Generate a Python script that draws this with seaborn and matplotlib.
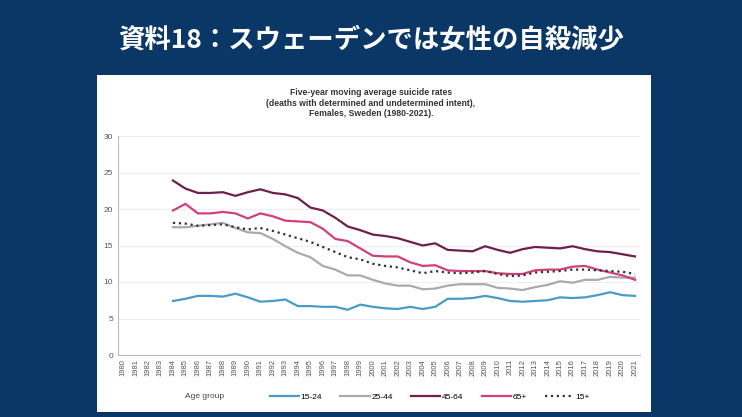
import matplotlib
matplotlib.use("Agg")
import matplotlib.pyplot as plt
import seaborn as sns
import pandas as pd
from matplotlib.patches import Rectangle

years = list(range(1980, 2022))
data_years = list(range(1984, 2022))
g1524 = [7.4, 7.7, 8.1, 8.1, 8.0, 8.4, 7.9, 7.3, 7.4, 7.6, 6.7, 6.7, 6.6, 6.6, 6.2, 6.9, 6.6, 6.4, 6.3, 6.6, 6.3, 6.6, 7.7, 7.7, 7.8, 8.1, 7.8, 7.4, 7.3, 7.4, 7.5, 7.9, 7.8, 7.9, 8.2, 8.6, 8.2, 8.1]
g2544 = [17.5, 17.5, 17.7, 17.9, 18.1, 17.4, 16.8, 16.7, 15.9, 14.9, 14.0, 13.4, 12.2, 11.7, 10.9, 10.9, 10.3, 9.8, 9.5, 9.5, 9.0, 9.1, 9.5, 9.7, 9.7, 9.7, 9.2, 9.1, 8.9, 9.3, 9.6, 10.1, 9.9, 10.3, 10.3, 10.7, 10.6, 10.6]
g4564 = [23.9, 22.8, 22.2, 22.2, 22.3, 21.8, 22.3, 22.7, 22.2, 22.0, 21.5, 20.2, 19.8, 18.8, 17.6, 17.1, 16.5, 16.3, 16.0, 15.5, 15.0, 15.3, 14.4, 14.3, 14.2, 14.9, 14.4, 14.0, 14.5, 14.8, 14.7, 14.6, 14.9, 14.5, 14.2, 14.1, 13.8, 13.5]
g65 = [19.8, 20.7, 19.4, 19.4, 19.6, 19.4, 18.7, 19.4, 19.0, 18.4, 18.3, 18.2, 17.3, 15.9, 15.6, 14.6, 13.6, 13.5, 13.5, 12.7, 12.2, 12.3, 11.6, 11.5, 11.5, 11.5, 11.2, 11.1, 11.1, 11.6, 11.7, 11.7, 12.1, 12.2, 11.7, 11.3, 10.9, 10.3]
g15 = [18.1, 18.0, 17.7, 17.8, 17.9, 17.5, 17.2, 17.4, 17.0, 16.5, 16.0, 15.5, 14.8, 14.1, 13.4, 13.1, 12.5, 12.2, 12.0, 11.6, 11.2, 11.5, 11.3, 11.2, 11.3, 11.5, 11.1, 10.8, 10.9, 11.3, 11.4, 11.5, 11.7, 11.7, 11.6, 11.5, 11.4, 11.1]

series = {"15-24": g1524, "25-44": g2544, "45-64": g4564, "65+": g65, "15+": g15}
colors = {"15-24": "#4a9cc4", "25-44": "#aaaaaa", "45-64": "#6e1f4a", "65+": "#d0407a", "15+": "#333333"}
styles = {"15+": ":"}

plt.rcParams['font.family'] = ['Noto Sans CJK JP', 'DejaVu Sans']
fig = plt.figure(figsize=(7.42, 4.17), dpi=100)
fig.patch.set_facecolor("#0b3766")
fig.patches.append(Rectangle((97/742, 1-412/417), (651-97)/742, (412-75)/417,
                             transform=fig.transFigure, facecolor="white", edgecolor="none", zorder=-10))
fig.text(0.5, 1-40/417, "資料18：スウェーデンでは女性の自殺減少", color="white",
         fontsize=19, fontweight="bold", ha="center", va="center")
fig.text(0.5, 1-103/417, "Five-year moving average suicide rates\n(deaths with determined and undetermined intent),\nFemales, Sweden (1980-2021).",
         fontsize=6.2, fontweight="bold", ha="center", va="center", color="#333333",
         family=["Liberation Sans", "DejaVu Sans"], linespacing=1.25)

ax = fig.add_axes([118/742, 1-355/417, (640-118)/742, (355-136)/417])
ax.set_zorder(5)
ax.set_facecolor("white")
for name, vals in series.items():
    df = pd.DataFrame({"year": data_years, "v": vals})
    sns.lineplot(data=df, x="year", y="v", ax=ax, color=colors[name], lw=1.6,
                 linestyle=styles.get(name, "-"), label=name)
ax.set_xlim(1979.6, 2021.4)
ax.set_ylim(0, 30)
ax.set_xticks(years)
ax.set_xticklabels([str(y) for y in years], rotation=90, fontsize=5.5, color="#555555",
                   family=["Liberation Sans", "DejaVu Sans"])
ax.set_yticks(range(0, 31, 5))
ax.set_yticklabels([str(v) for v in range(0, 31, 5)], fontsize=6, color="#555555",
                   family=["Liberation Sans", "DejaVu Sans"])
ax.tick_params(axis="y", length=0)
ax.tick_params(axis="x", length=0, pad=3)
ax.grid(axis="y", color="#eeeeee", lw=0.8)
ax.set_axisbelow(True)
for s in ["top", "right"]:
    ax.spines[s].set_visible(False)
ax.spines["left"].set_color("#bbbbbb")
ax.spines["bottom"].set_color("#bbbbbb")
ax.set_xlabel("")
ax.set_ylabel("")
ax.legend_.remove()
h, l = ax.get_legend_handles_labels()
fig.text(185/742, 1-397/417, "Age group", fontsize=6, color="#444444", va="center",
         family=["Liberation Sans", "DejaVu Sans"])
fig.legend(h, l, loc="center", bbox_to_anchor=(430/742, 1-397/417), ncol=5, frameon=False,
           handlelength=3.5, columnspacing=2.2, handletextpad=0.2,
           prop={"family": ["Liberation Sans", "DejaVu Sans"], "size": 6})
fig.savefig("out.png", dpi=100)
